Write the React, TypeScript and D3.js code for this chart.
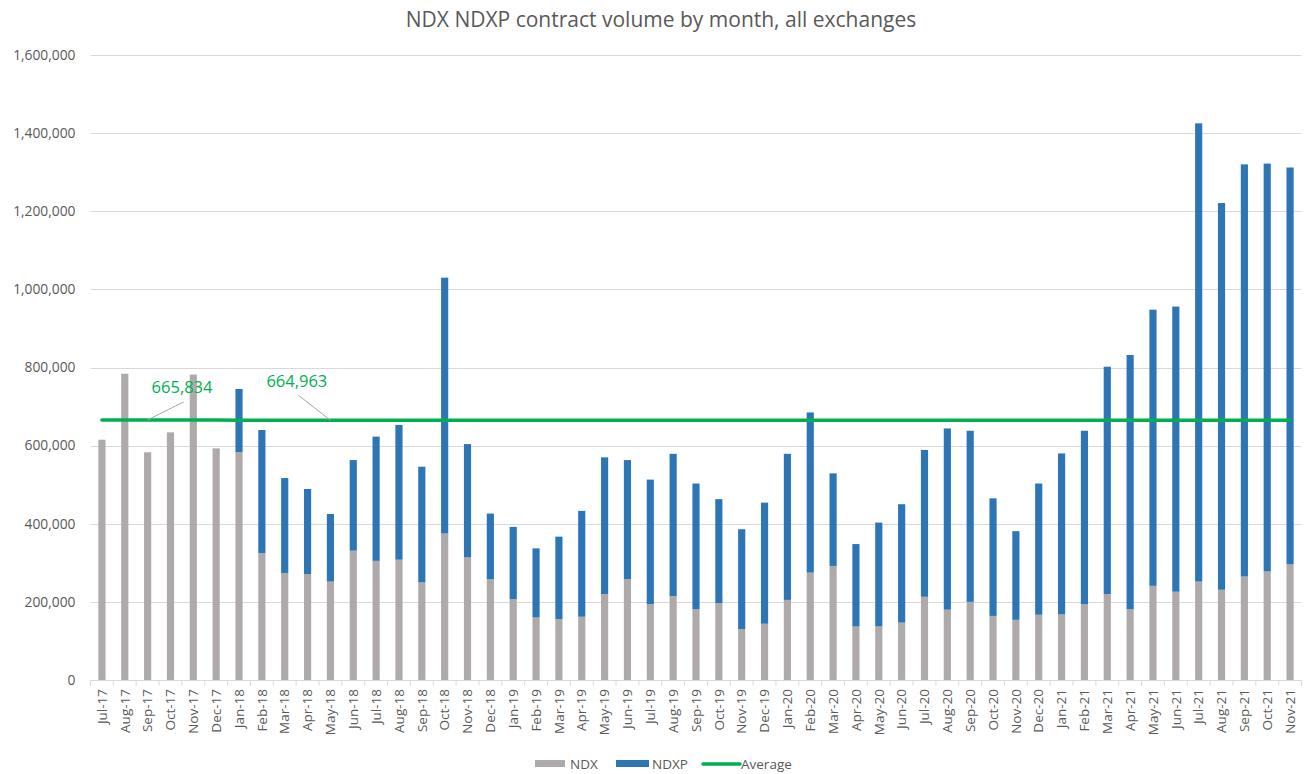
import * as d3 from 'd3';
import { useEffect, useRef } from 'react';

const months = [
  'Jul-17', 'Aug-17', 'Sep-17', 'Oct-17', 'Nov-17', 'Dec-17',
  'Jan-18', 'Feb-18', 'Mar-18', 'Apr-18', 'May-18', 'Jun-18', 'Jul-18', 'Aug-18', 'Sep-18', 'Oct-18', 'Nov-18', 'Dec-18',
  'Jan-19', 'Feb-19', 'Mar-19', 'Apr-19', 'May-19', 'Jun-19', 'Jul-19', 'Aug-19', 'Sep-19', 'Oct-19', 'Nov-19', 'Dec-19',
  'Jan-20', 'Feb-20', 'Mar-20', 'Apr-20', 'May-20', 'Jun-20', 'Jul-20', 'Aug-20', 'Sep-20', 'Oct-20', 'Nov-20', 'Dec-20',
  'Jan-21', 'Feb-21', 'Mar-21', 'Apr-21', 'May-21', 'Jun-21', 'Jul-21', 'Aug-21', 'Sep-21', 'Oct-21', 'Nov-21',
];

const ndx = [
  615000, 784000, 583000, 634000, 782000, 593000,
  583000, 325000, 274000, 271000, 252000, 331000, 305000, 308000, 250000, 375000, 314000, 258000,
  207000, 160000, 156000, 162000, 220000, 258000, 194000, 215000, 181000, 197000, 130000, 144000,
  205000, 275000, 292000, 137000, 137000, 147000, 213000, 180000, 200000, 164000, 154000, 167000,
  168000, 194000, 220000, 181000, 241000, 226000, 252000, 231000, 265000, 278000, 296000,
];

const ndxp = [
  0, 0, 0, 0, 0, 0,
  162000, 315000, 243000, 218000, 173000, 232000, 318000, 345000, 296000, 655000, 290000, 168000,
  185000, 177000, 211000, 271000, 350000, 305000, 319000, 364000, 322000, 266000, 256000, 310000,
  374000, 410000, 237000, 211000, 266000, 303000, 376000, 464000, 438000, 301000, 227000, 336000,
  412000, 444000, 582000, 651000, 707000, 730000, 1173000, 990000, 1055000, 1044000, 1016000,
];

const average = [
  665834, 665834, 665834, 665834, 665834, 665834,
  664963, 664963, 664963, 664963, 664963, 664963, 664963, 664963, 664963, 664963, 664963, 664963,
  664963, 664963, 664963, 664963, 664963, 664963, 664963, 664963, 664963, 664963, 664963, 664963,
  664963, 664963, 664963, 664963, 664963, 664963, 664963, 664963, 664963, 664963, 664963, 664963,
  664963, 664963, 664963, 664963, 664963, 664963, 664963, 664963, 664963, 664963, 664963,
];

const yTicks = [0, 200000, 400000, 600000, 800000, 1000000, 1200000, 1400000, 1600000];

// labelled average points: month, label text
const callouts = [
  { month: 'Sep-17', text: '665,834', lx: 36, ly: -18, tx: 4, ty: -27 },
  { month: 'May-18', text: '664,963', lx: -32, ly: -25, tx: -64, ty: -33 },
];

const W = 1307;
const H = 774;
const FONT = "'Open Sans', 'Liberation Sans', sans-serif";
const TEXT = '#595959';
const GRAY = '#AEAAAA';
const BLUE = '#2E75B6';
const GREEN = '#00B050';

export default function App() {
  const svgRef = useRef<SVGSVGElement>(null);

  useEffect(() => {
    if (!svgRef.current) return;
    const root = d3.select(svgRef.current);
    root.selectAll('*').remove();

    const margin = { top: 55, right: 5.5, bottom: 94, left: 90.5 };
    const width = W - margin.left - margin.right;
    const chartHeight = H - margin.top - margin.bottom;

    root.append('rect').attr('width', W).attr('height', H).attr('fill', '#fff');

    // Title
    root
      .append('text')
      .attr('x', 661)
      .attr('y', 27)
      .attr('text-anchor', 'middle')
      .style('font-family', FONT)
      .style('font-size', '21px')
      .attr('fill', TEXT)
      .text('NDX NDXP contract volume by month, all exchanges');

    const svg = root.append('g').attr('transform', `translate(${margin.left},${margin.top})`);

    const x = d3.scaleBand<string>().domain(months).range([0, width]).paddingInner(0).paddingOuter(0);
    const y = d3.scaleLinear().domain([0, 1600000]).range([chartHeight, 0]);
    const barW = x.bandwidth() / 3.19;
    const cx = (m: string) => (x(m) as number) + x.bandwidth() / 2;

    // Gridlines
    svg
      .selectAll('line.grid')
      .data(yTicks.slice(1))
      .enter()
      .append('line')
      .attr('x1', 0)
      .attr('x2', width)
      .attr('y1', (d) => Math.round(y(d)) + 0.5)
      .attr('y2', (d) => Math.round(y(d)) + 0.5)
      .attr('stroke', '#D9D9D9')
      .attr('stroke-width', 1);

    // Y labels
    svg
      .selectAll('text.ylab')
      .data(yTicks)
      .enter()
      .append('text')
      .attr('x', -15)
      .attr('y', (d) => y(d))
      .attr('dy', '0.35em')
      .attr('text-anchor', 'end')
      .style('font-family', FONT)
      .style('font-size', '13.8px')
      .attr('fill', TEXT)
      .text((d) => d3.format(',')(d));

    // Stacked bars
    const rows = months.map((m, i) => ({ m, ndx: ndx[i], ndxp: ndxp[i] }));
    svg
      .selectAll('rect.ndx')
      .data(rows)
      .enter()
      .append('rect')
      .attr('x', (d) => cx(d.m) - barW / 2)
      .attr('width', barW)
      .attr('y', (d) => y(d.ndx))
      .attr('height', (d) => y(0) - y(d.ndx))
      .attr('fill', GRAY);

    svg
      .selectAll('rect.ndxp')
      .data(rows.filter((d) => d.ndxp > 0))
      .enter()
      .append('rect')
      .attr('x', (d) => cx(d.m) - barW / 2)
      .attr('width', barW)
      .attr('y', (d) => y(d.ndx + d.ndxp))
      .attr('height', (d) => y(d.ndx) - y(d.ndx + d.ndxp))
      .attr('fill', BLUE);

    // X axis line and ticks
    const base = Math.round(y(0)) + 0.5;
    svg
      .append('line')
      .attr('x1', 0)
      .attr('x2', width)
      .attr('y1', base)
      .attr('y2', base)
      .attr('stroke', '#D9D9D9');
    svg
      .selectAll('line.xtick')
      .data([...months.map((m) => x(m) as number), width])
      .enter()
      .append('line')
      .attr('x1', (d) => d)
      .attr('x2', (d) => d)
      .attr('y1', base)
      .attr('y2', base + 5)
      .attr('stroke', '#D9D9D9');

    // X labels
    svg
      .selectAll('text.xlab')
      .data(months)
      .enter()
      .append('text')
      .attr('transform', (d) => `translate(${cx(d)},${chartHeight + 9}) rotate(-90)`)
      .attr('text-anchor', 'end')
      .attr('dy', '0.35em')
      .style('font-family', FONT)
      .style('font-size', '13.5px')
      .attr('fill', TEXT)
      .text((d) => d);

    // Average line
    const line = d3
      .line<number>()
      .x((_, i) => cx(months[i]))
      .y((d) => y(d));
    svg
      .append('path')
      .datum(average)
      .attr('fill', 'none')
      .attr('stroke', GREEN)
      .attr('stroke-width', 3.5)
      .attr('stroke-linecap', 'round')
      .attr('d', line);

    // Callouts
    callouts.forEach((c) => {
      const i = months.indexOf(c.month);
      const px = cx(c.month);
      const py = y(average[i]);
      svg
        .append('line')
        .attr('x1', px)
        .attr('y1', py)
        .attr('x2', px + c.lx)
        .attr('y2', py + c.ly)
        .attr('stroke', '#A6A6A6')
        .attr('stroke-width', 1);
      svg
        .append('text')
        .attr('x', px + c.tx)
        .attr('y', py + c.ty)
        .style('font-family', FONT)
        .style('font-size', '16.5px')
        .attr('fill', GREEN)
        .text(c.text);
    });

    // Legend
    const lg = root.append('g').style('font-family', FONT).style('font-size', '13.5px');
    lg.append('rect').attr('x', 535).attr('y', 760).attr('width', 30).attr('height', 7).attr('fill', GRAY);
    lg.append('text').attr('x', 570).attr('y', 769).attr('fill', TEXT).text('NDX');
    lg.append('rect').attr('x', 616).attr('y', 760).attr('width', 33).attr('height', 7).attr('fill', BLUE);
    lg.append('text').attr('x', 652).attr('y', 769).attr('fill', TEXT).text('NDXP');
    lg.append('line')
      .attr('x1', 703)
      .attr('x2', 740)
      .attr('y1', 764)
      .attr('y2', 764)
      .attr('stroke', GREEN)
      .attr('stroke-width', 3.5)
      .attr('stroke-linecap', 'round');
    lg.append('text').attr('x', 741).attr('y', 769).attr('fill', TEXT).text('Average');
  }, []);

  return (
    <div style={{ position: 'absolute', left: 0, top: 0 }}>
      <svg ref={svgRef} width={W} height={H} style={{ display: 'block' }} />
    </div>
  );
}
